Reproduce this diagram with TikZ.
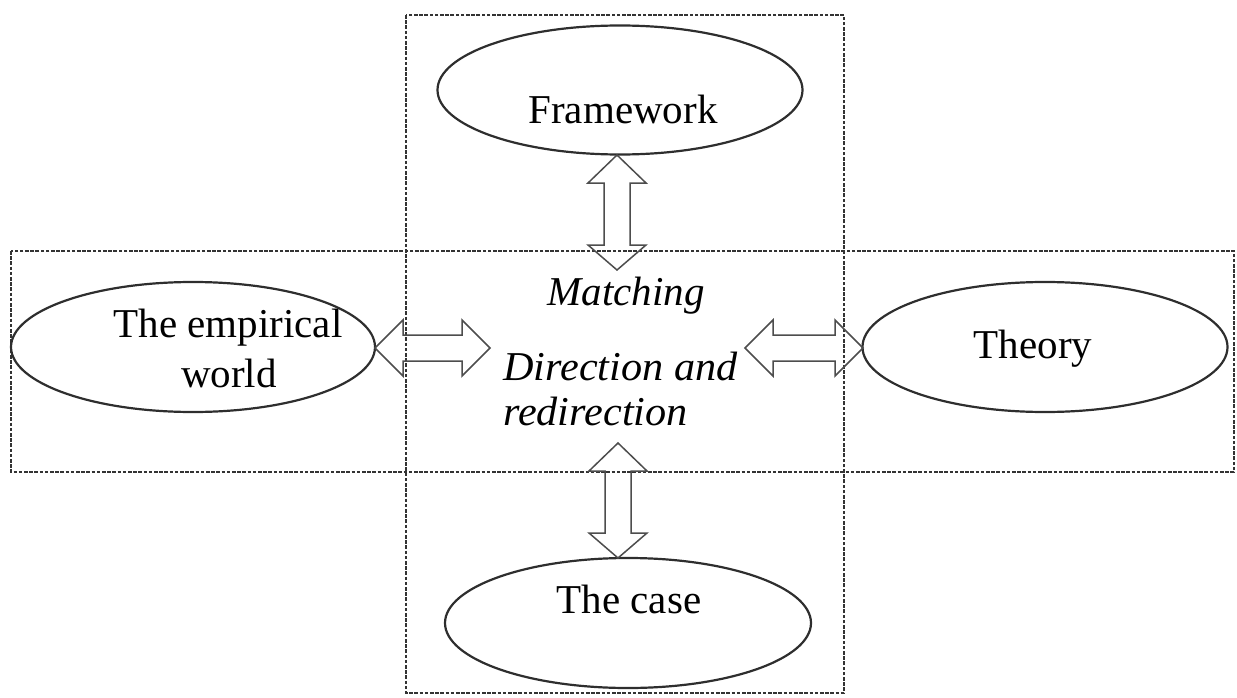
\documentclass[tikz,border=0pt]{standalone}
\usepackage{fontspec}
\setmainfont{Liberation Serif}
\usetikzlibrary{calc,shapes.geometric}
\definecolor{linegray}{HTML}{2E2E2E}
\definecolor{dashgray}{HTML}{333333}
\tikzset{
  zone/.style={draw=dashgray, line width=1.8pt, dash pattern=on 3.6pt off 1.6pt},
  oval/.style={draw=linegray, line width=2.2pt, ellipse, inner sep=0pt},
  lbl/.style={font=\fontsize{41}{50}\selectfont, inner sep=0pt, anchor=base, text=black},
  ilbl/.style={font=\fontsize{41}{50}\selectfont\itshape, inner sep=0pt, text=black},
  blockarrow/.style={draw=linegray!85, line width=1.5pt, line join=miter},
}
% horizontal double block arrow: x1 x2 y
\newcommand{\dblH}[3]{%
  \draw[blockarrow] (#1,#3) -- (#1+28,#3-28) -- (#1+28,#3-13) -- (#2-28,#3-13) -- (#2-28,#3-28) -- (#2,#3)
     -- (#2-28,#3+28) -- (#2-28,#3+13) -- (#1+28,#3+13) -- (#1+28,#3+28) -- cycle;}
% vertical double block arrow: y1 y2 x
\newcommand{\dblV}[3]{%
  \draw[blockarrow] (#3,#1) -- (#3+29,#1+28) -- (#3+13,#1+28) -- (#3+13,#2-25) -- (#3+29,#2-25) -- (#3,#2)
     -- (#3-29,#2-25) -- (#3-13,#2-25) -- (#3-13,#1+28) -- (#3-29,#1+28) -- cycle;}
\begin{document}
\begin{tikzpicture}[x=1pt,y=-1pt]
\useasboundingbox (0,0) rectangle (1237,698);
% dashed zones
\draw[zone] (406,15) rectangle (844,693);
\draw[zone] (11,251) rectangle (1234,472);
% ellipses
\node[oval, minimum width=365pt, minimum height=129pt] (frame) at (620,90) {};
\node[oval, minimum width=364pt, minimum height=130pt] (emp) at (193,347) {};
\node[oval, minimum width=365pt, minimum height=130pt] (theory) at (1045,347) {};
\node[oval, minimum width=366pt, minimum height=130pt] (case) at (628,623) {};
% arrows
\dblV{155}{270}{617}
\dblV{443}{558}{618}
\dblH{375}{490}{348}
\dblH{745}{863}{348}
% labels
\node[lbl] (tframe) at (623,124) {Framework};
\node[lbl] (temp1) at (228,337) {The empirical};
\node[lbl] (temp2) at (229,387) {world};
\node[lbl] (ttheory) at (1033,358) {Theory};
\node[lbl] (tcase) at (629,613) {The case};
\node[ilbl, anchor=base] (match) at (626,305) {Matching};
\node[ilbl, anchor=base west, xscale=1.03] (dir1) at (503,380) {Direction and};
\node[ilbl, anchor=base west, xscale=1.03] (dir2) at (503,425) {redirection};
\end{tikzpicture}
\end{document}
